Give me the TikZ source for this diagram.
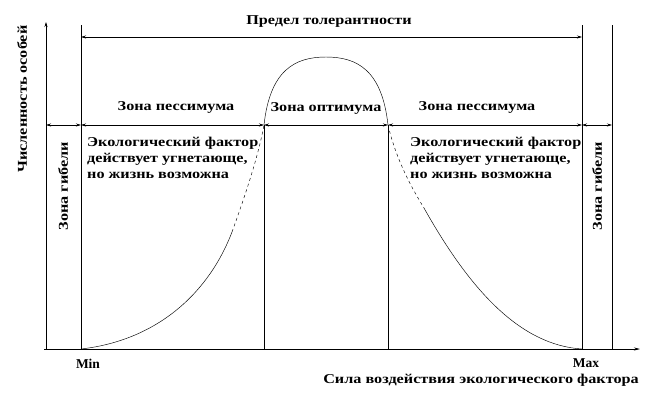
\documentclass[tikz,border=0pt]{standalone}
\usepackage{fontspec}
\setmainfont{Liberation Serif}
\usetikzlibrary{arrows.meta}
\newcommand{\widetxt}[1]{\scalebox{1.2}[1]{#1}}
\begin{document}
\begin{tikzpicture}[x=1pt,y=-1pt,
  lbl/.style={font=\bfseries\fontsize{13.5}{16}\selectfont, inner sep=1pt},
  dim/.style={{Stealth[length=5pt,width=3pt]}-{Stealth[length=5pt,width=3pt]}, line width=0.6pt},
  ln/.style={line width=0.6pt},
  crv/.style={line width=0.45pt}]
\useasboundingbox (0,0) rectangle (659,400);
% coordinates
\coordinate (O) at (46,349);
\coordinate (Ytop) at (46,22);
\coordinate (Xend) at (640,349);
\coordinate (Xst) at (44,349);
\coordinate (mn) at (81,349);\coordinate (mnT) at (81,25);
\coordinate (mx) at (582,349);\coordinate (mxT) at (582,25);
\coordinate (rr) at (612,349);\coordinate (rrT) at (612,25);
\coordinate (o1) at (264,349);\coordinate (o1T) at (264,125);
\coordinate (o2) at (388,349);\coordinate (o2T) at (388,125);
\coordinate (h0) at (46,125);\coordinate (h1) at (81,125);\coordinate (h4) at (582,125);\coordinate (h5) at (612,125);
\coordinate (t1) at (81,37);\coordinate (t2) at (582,37);
% axes
\draw[ln,-{Stealth[length=5pt,width=3pt]}] (Xst) -- (O) -- (Ytop);
\draw[ln,-{Stealth[length=6pt,width=3pt]}] (O) -- (Xend);
\draw[ln] (mn) -- (mnT); \draw[ln] (mx) -- (mxT); \draw[ln] (rr) -- (rrT);
\draw[ln] (o1) -- (o1T); \draw[ln] (o2) -- (o2T);
% dimension lines
\draw[dim] (h0) -- (h1);
\draw[dim] (h1) -- (o1T);
\draw[dim] (o1T) -- (o2T);
\draw[dim] (o2T) -- (h4);
\draw[dim] (h4) -- (h5);
\draw[dim] (t1) -- (t2);
% curve
\coordinate (c1) at (232,232);\coordinate (c2) at (424,208);\coordinate (pk) at (326,57);
\draw[crv] (mn) .. controls (160,340) and (210,290) .. (c1);
\draw[crv,dashed] (c1) .. controls (249,185) and (259,152) .. (o1T);
\draw[crv] (o1T) .. controls (270,70) and (295,57) .. (pk) .. controls (357,57) and (382,70) .. (o2T);
\draw[crv,dashed] (o2T) .. controls (395,155) and (408,182) .. (c2);
\draw[crv] (c2) .. controls (470,290) and (520,345) .. (mx);
% texts
\node[lbl] (tol) at (329,22) {\widetxt{Предел толерантности}};
\node[lbl] (p1) at (176,107) {\widetxt{Зона пессимума}};
\node[lbl] (op) at (326,108) {\widetxt{Зона оптимума}};
\node[lbl] (p2) at (477,107) {\widetxt{Зона пессимума}};
\node[lbl,anchor=north west] (e1) at (86,134) {\widetxt{\begin{tabular}{@{}l@{}}Экологический фактор\\[0pt]действует угнетающе,\\[0pt]но жизнь возможна\end{tabular}}};
\node[lbl,anchor=north west] (e2) at (409,134) {\widetxt{\begin{tabular}{@{}l@{}}Экологический фактор\\[0pt]действует угнетающе,\\[0pt]но жизнь возможна\end{tabular}}};
\node[lbl,rotate=90] (yl) at (22,99) {\widetxt{Численность особей}};
\node[lbl,rotate=90] (g1) at (63,186) {\widetxt{Зона гибели}};
\node[lbl,rotate=90] (g2) at (597,186) {\widetxt{Зона гибели}};
\node[lbl] (mnl) at (88,364) {Min};
\node[lbl] (mxl) at (586,363) {Max};
\node[lbl,anchor=east] (xl) at (640,380) {\widetxt{Сила воздействия экологического фактора}};
\end{tikzpicture}
\end{document}
